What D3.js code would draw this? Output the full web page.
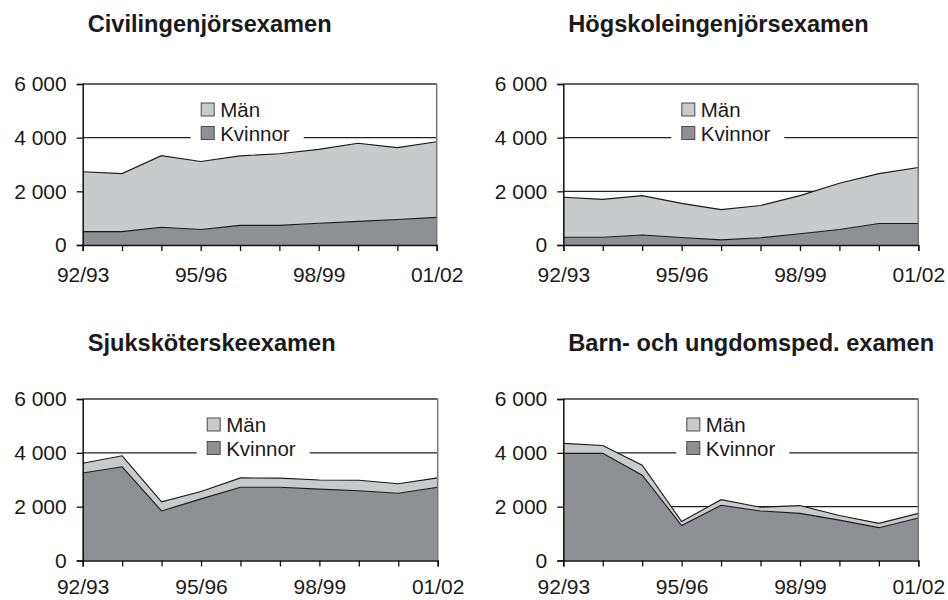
<!DOCTYPE html>
<html>
<head>
<meta charset="utf-8">
<script src="https://cdn.jsdelivr.net/npm/d3@7"></script>
<style>
  html, body { margin: 0; padding: 0; background: #fff; }
  svg { display: block; }
  text { font-family: "Liberation Sans", Arial, Helvetica, sans-serif; fill: #1a1a1a; }
</style>
</head>
<body>
<svg id="chart" width="948" height="600"></svg>
<script>
// ---- Data ----
const categories = ["92/93","93/94","94/95","95/96","96/97","97/98","98/99","99/00","00/01","01/02"];
const shownTicks = ["92/93","95/96","98/99","01/02"];
const yTicks = [0, 2000, 4000, 6000];
const seriesNames = ["Kvinnor", "Män"];

const titles = ["Civilingenjörsexamen", "Högskoleingenjörsexamen", "Sjuksköterskeexamen", "Barn- och ungdomsped. examen"];

const civKvinnor = [500, 500, 660, 580, 730, 730, 810, 880, 950, 1030];
const civMan     = [2230, 2160, 2670, 2530, 2590, 2670, 2755, 2910, 2680, 2820];

const hogKvinnor = [290, 290, 370, 280, 190, 270, 420, 580, 800, 800];
const hogMan     = [1490, 1410, 1470, 1270, 1130, 1200, 1420, 1720, 1860, 2090];

const sjukKvinnor = [3250, 3480, 1840, 2290, 2720, 2720, 2650, 2590, 2500, 2720];
const sjukMan     = [360, 410, 340, 270, 350, 340, 340, 390, 350, 350];

const barnKvinnor = [3980, 3980, 3170, 1300, 2050, 1840, 1750, 1500, 1220, 1580];
const barnMan     = [370, 290, 370, 150, 210, 140, 290, 170, 160, 170];

const panelData = [
  [civKvinnor, civMan],
  [hogKvinnor, hogMan],
  [sjukKvinnor, sjukMan],
  [barnKvinnor, barnMan]
];

// ---- Layout ----
const panels = [
  { left: 82.7, right: 436.7, top: 84, bottom: 245, titleY: 31.7, legendX: 108, labelPad: 16.3 },
  { left: 563.3, right: 918.3, top: 84, bottom: 245, titleY: 31.7, legendX: 108, labelPad: 16.3 },
  { left: 82.7, right: 437.7, top: 399, bottom: 560.5, titleY: 351, legendX: 114, labelPad: 12.8 },
  { left: 563.3, right: 918.3, top: 399, bottom: 560.5, titleY: 351, legendX: 113, labelPad: 12.8 }
];
const colors = { "Kvinnor": "#8f9094", "Män": "#c9cacc" };

const svg = d3.select("#chart");
const fmt = d => d3.format(",")(d).replace(/,/g, " ");

panels.forEach((p, pi) => {
  const g = svg.append("g");
  const x = d3.scalePoint().domain(categories).range([p.left, p.right]);
  const y = d3.scaleLinear().domain([0, 6000]).range([p.bottom, p.top]);

  const [kv, man] = panelData[pi];
  const rows = categories.map((c, i) => ({ cat: c, "Kvinnor": kv[i], "Män": man[i] }));
  const stacked = d3.stack().keys(seriesNames)(rows);

  // title
  g.append("text")
    .attr("x", p.left + 5)
    .attr("y", p.titleY)
    .attr("font-size", 23.6)
    .attr("font-weight", "bold")
    .text(titles[pi]);

  // gridlines (2000, 4000)
  g.selectAll("line.grid").data([2000, 4000]).join("line")
    .attr("class", "grid")
    .attr("x1", p.left).attr("x2", p.right)
    .attr("y1", d => y(d)).attr("y2", d => y(d))
    .attr("stroke", "#222").attr("stroke-width", 1.1);

  // areas
  const area = d3.area()
    .x(d => x(d.data.cat))
    .y0(d => y(d[0]))
    .y1(d => y(d[1]));
  const line = d3.line()
    .x(d => x(d.data.cat))
    .y(d => y(d[1]));

  g.selectAll("path.area").data(stacked).join("path")
    .attr("class", "area")
    .attr("d", area)
    .attr("fill", d => colors[d.key]);
  g.selectAll("path.top").data(stacked).join("path")
    .attr("class", "top")
    .attr("d", line)
    .attr("fill", "none")
    .attr("stroke", "#1a1a1a")
    .attr("stroke-width", 1.1);

  // top border and right border
  g.append("line")
    .attr("x1", p.left).attr("x2", p.right)
    .attr("y1", y(6000)).attr("y2", y(6000))
    .attr("stroke", "#333").attr("stroke-width", 1.4);
  g.append("line")
    .attr("x1", p.right).attr("x2", p.right)
    .attr("y1", y(6000)).attr("y2", y(0))
    .attr("stroke", "#7a7a7a").attr("stroke-width", 1.5);

  // legend
  const lx = p.left + p.legendX;
  const ly = p.top;
  const lg = g.append("g");
  lg.append("rect")
    .attr("x", lx).attr("y", ly + 12)
    .attr("width", 113).attr("height", 49)
    .attr("fill", "#fff");
  const legendItems = ["Män", "Kvinnor"];
  legendItems.forEach((k, i) => {
    const sy = ly + 19 + i * 23.5;
    lg.append("rect")
      .attr("x", lx + 10.5).attr("y", sy)
      .attr("width", 13).attr("height", 13)
      .attr("fill", colors[k])
      .attr("stroke", "#4a4a4a").attr("stroke-width", 1);
    lg.append("text")
      .attr("x", lx + 29.5).attr("y", sy + 14)
      .attr("font-size", 20.5)
      .text(k);
  });

  // axes
  const yAxis = d3.axisLeft(y).tickValues(yTicks).tickFormat(fmt).tickSize(6).tickPadding(10);
  const ya = g.append("g").attr("transform", `translate(${p.left},0)`).call(yAxis);
  ya.select(".domain").attr("stroke", "#111").attr("stroke-width", 1.5);
  ya.selectAll(".tick line").attr("stroke", "#111").attr("stroke-width", 1.3);
  ya.selectAll(".tick text").attr("font-size", 21).attr("font-family", "Liberation Sans, Arial, sans-serif").attr("fill", "#1a1a1a");

  const xAxis = d3.axisBottom(x).tickSize(6).tickPadding(p.labelPad)
    .tickFormat(d => shownTicks.includes(d) ? d : "");
  const xa = g.append("g").attr("transform", `translate(0,${p.bottom})`).call(xAxis);
  xa.select(".domain").attr("stroke", "#111").attr("stroke-width", 1.5);
  xa.selectAll(".tick line").attr("stroke", "#111").attr("stroke-width", 1.3);
  xa.selectAll(".tick text").attr("font-size", 21).attr("font-family", "Liberation Sans, Arial, sans-serif").attr("fill", "#1a1a1a");
});
</script>
</body>
</html>
